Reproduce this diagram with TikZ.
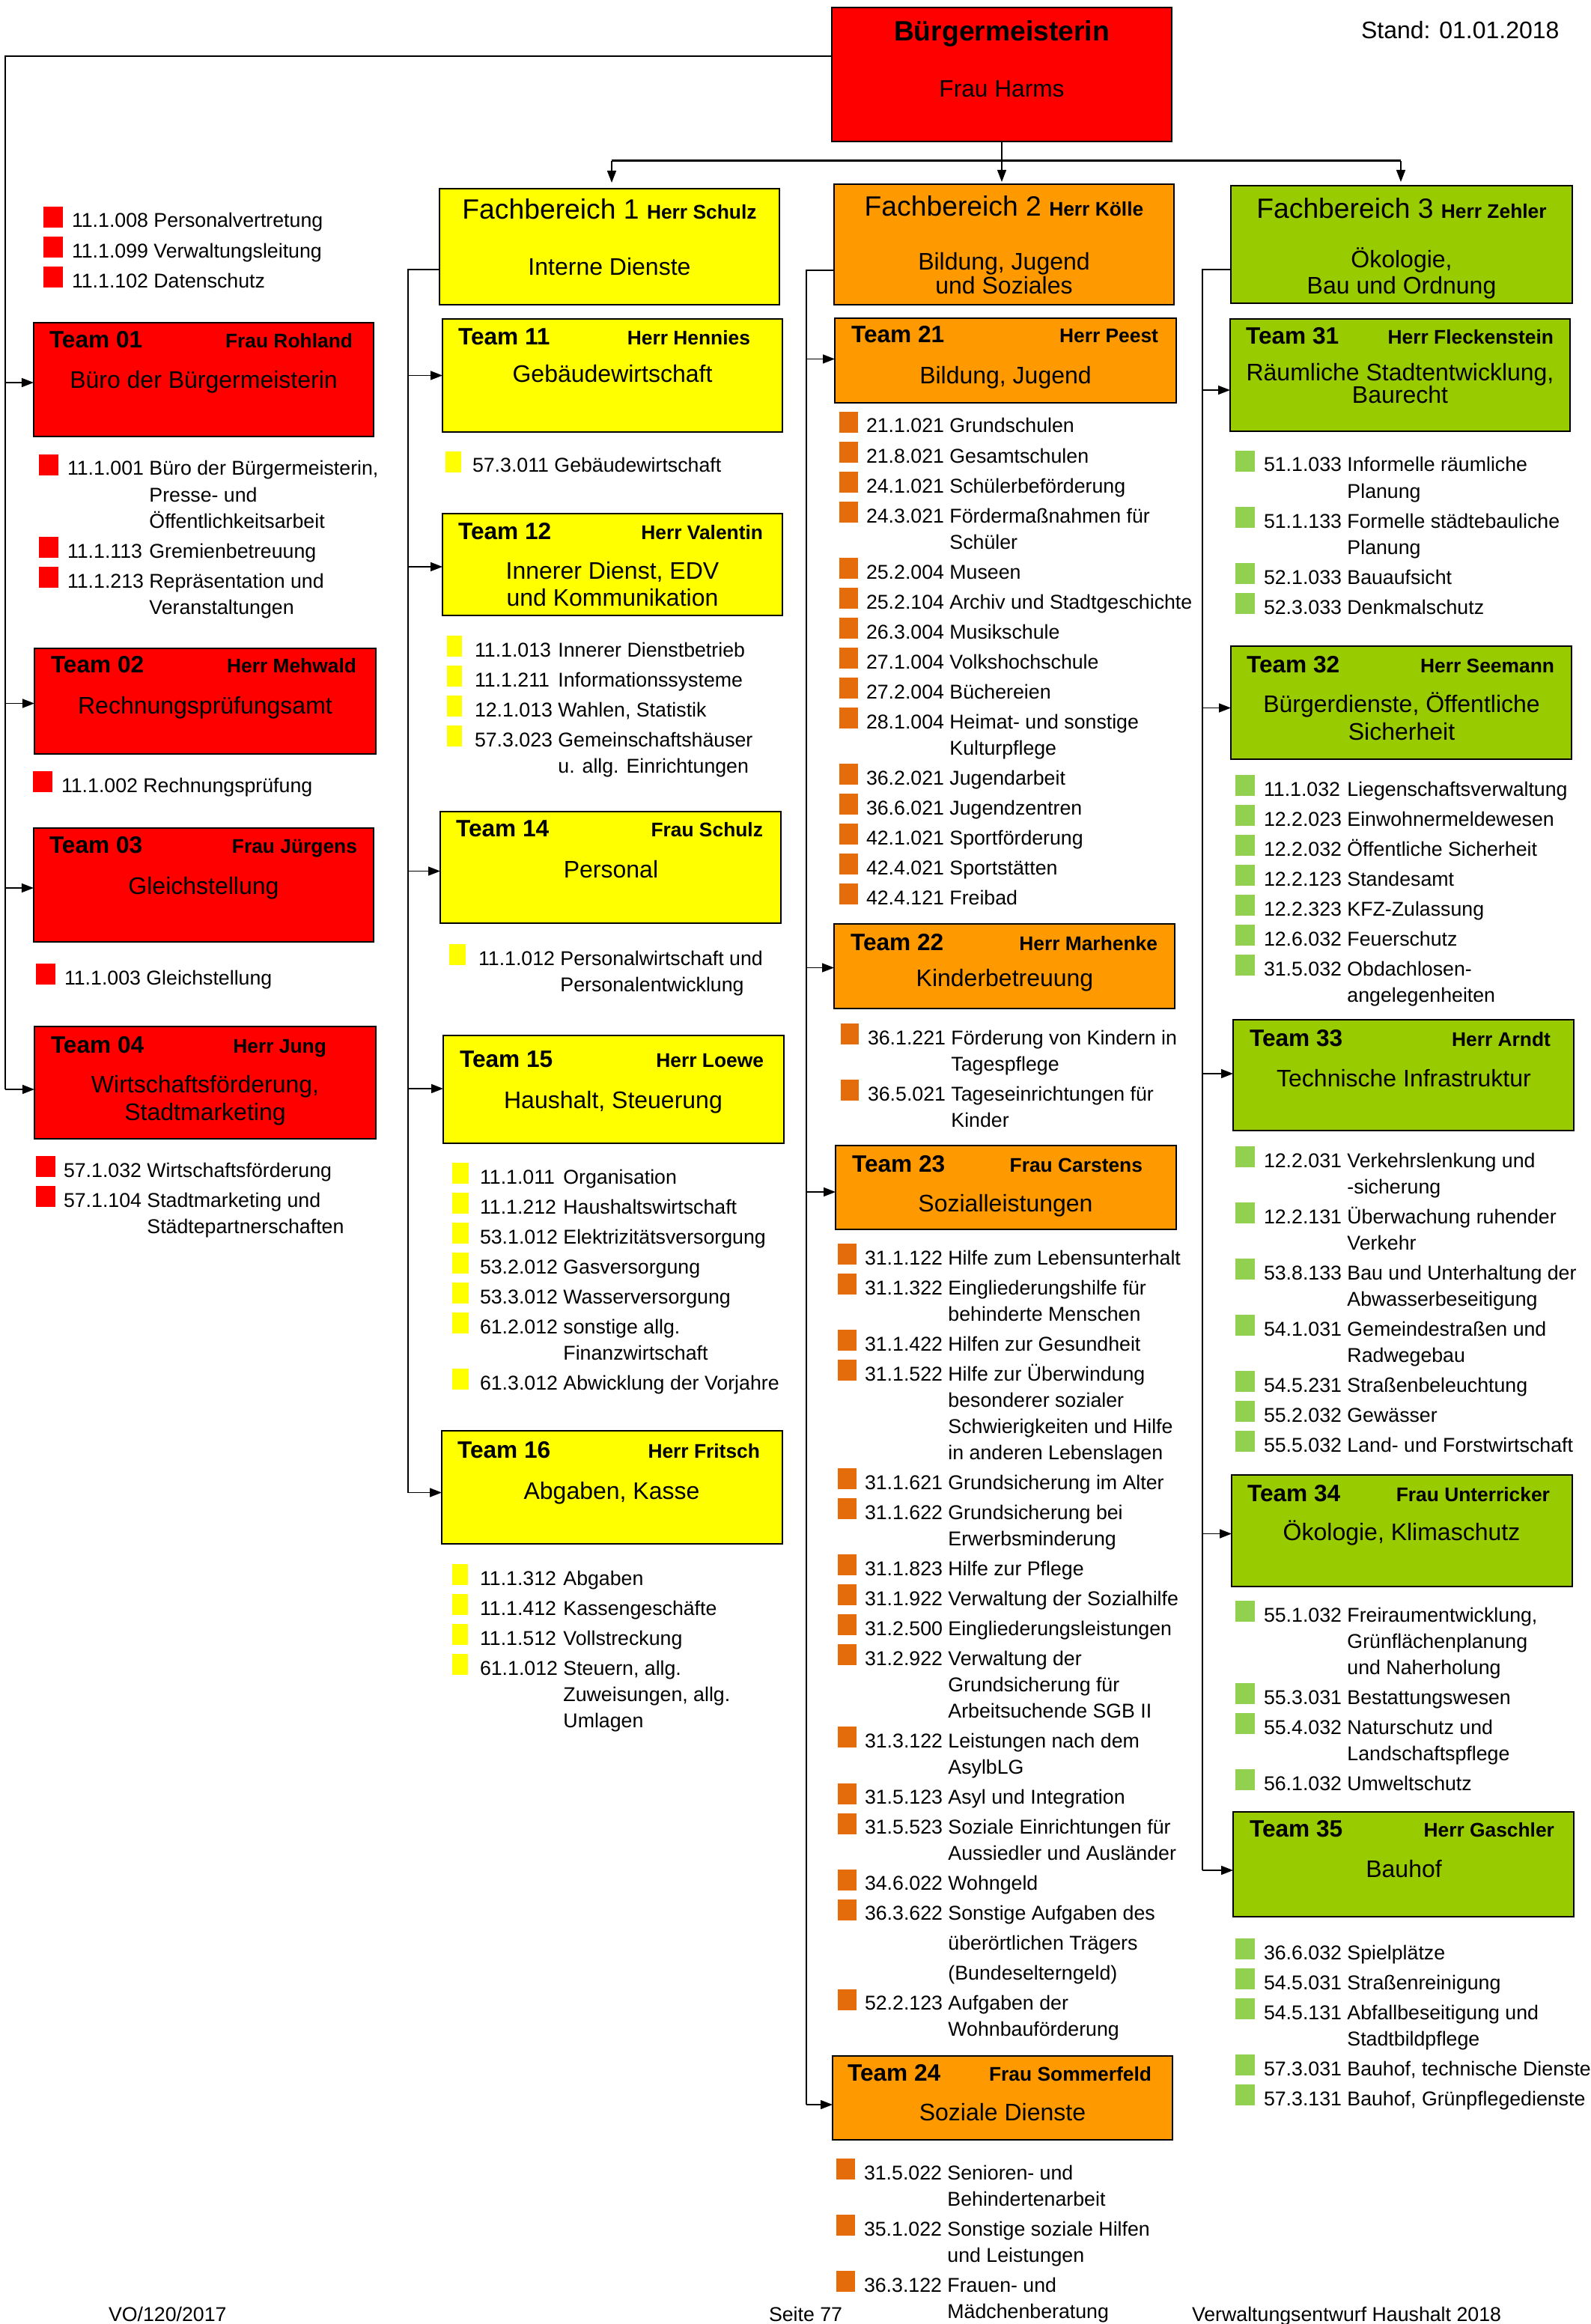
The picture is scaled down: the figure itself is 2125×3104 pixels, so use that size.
\documentclass[tikz,border=0pt]{standalone}
\usepackage{fontspec}
\setmainfont{Liberation Sans}
\usetikzlibrary{arrows.meta,calc}
\definecolor{cred}{HTML}{FF0000}
\definecolor{cyel}{HTML}{FFFF00}
\definecolor{corg}{HTML}{FF9900}
\definecolor{cgrn}{HTML}{99CC00}
\definecolor{bred}{HTML}{FF0000}
\definecolor{byel}{HTML}{FFFF00}
\definecolor{borg}{HTML}{E46C0A}
\definecolor{bgrn}{HTML}{92D050}
\newcommand\fItem{\fontsize{7.6}{9.96}\selectfont}
\newcommand\fTeam{\fontsize{9}{11}\selectfont\bfseries}
\newcommand\fName{\fontsize{7.5}{9}\selectfont\bfseries}
\newcommand\fSub{\fontsize{9.1}{11}\selectfont}
\newcommand\fFB{\fontsize{10.6}{12}\selectfont}
\newcommand\bl{\smash{\llap{\textcolor{\bulc}{\rule{\bulw}{0.28cm}}\hspace{\bulg}}}}
\newcommand\nx{\\[0.05cm]}
\newcommand\obox[6]{\node[obox,fill=#6,minimum width={(#4-#2)*0.01cm},minimum height={(#5-#3)*0.01cm},anchor=north west] (#1) at (#2,#3) {};}
\newcommand\teamhdr[6]{%
  \node[lbl,anchor=base west,font=\fTeam] (#1a) at (#2,#3) {#4};
  \node[lbl,anchor=base east,font=\fName] (#1b) at (#5,#3) {#6};}
\newcommand\subt[4]{\node[lbl,anchor=base,font=\fSub] (#1) at (#2,#3) {#4};}
\newcommand\ilist[7]{\node[ilst] (#1) at (#2,#3) {\def\bulc{#4}\def\bulw{#5}\def\bulg{#6}\begin{tabular}[t]{@{}l@{\ }l@{}}#7\end{tabular}};}
\newcommand\arrto[4]{\coordinate (#4) at ($(#2.west)+(0,#3)$); \draw[arr] (#4 -| #1) -- (#4);}
\tikzset{
  obox/.style={rectangle,draw=black,line width=0.02cm,inner sep=0pt,outer sep=0pt},
  lbl/.style={inner sep=0pt,outer sep=0pt},
  ilst/.style={inner sep=0pt,outer sep=0pt,anchor=base west,font=\fItem},
  arr/.style={line width=0.015cm,-{Triangle[length=0.16cm,width=0.12cm]}},
  spine/.style={line width=0.025cm},
  bus/.style={line width=0.03cm},
}
\begin{document}
\begin{tikzpicture}[x=0.01cm,y=-0.01cm]
\useasboundingbox (0,0) rectangle (2125,3104);
\clip (0,0) rectangle (2125,3104);
\fill[white] (0,0) rectangle (2125,3104);

% ---------- boxes ----------
\obox{bm}{1111}{10}{1565}{189}{cred}
\obox{fb1}{587}{252}{1041}{407}{cyel}
\obox{fb2}{1114}{246}{1568}{407}{corg}
\obox{fb3}{1644}{248}{2100}{405}{cgrn}
\obox{t01}{45}{431}{499}{583}{cred}
\obox{t02}{46}{866}{502}{1007}{cred}
\obox{t03}{45}{1106}{499}{1258}{cred}
\obox{t04}{46}{1371}{502}{1521}{cred}
\obox{t11}{591}{426}{1045}{577}{cyel}
\obox{t12}{591}{686}{1045}{822}{cyel}
\obox{t14}{588}{1084}{1043}{1233}{cyel}
\obox{t15}{592}{1383}{1047}{1527}{cyel}
\obox{t16}{590}{1911}{1045}{2062}{cyel}
\obox{t21}{1115}{425}{1571}{538}{corg}
\obox{t22}{1114}{1234}{1569}{1347}{corg}
\obox{t23}{1116}{1530}{1571}{1642}{corg}
\obox{t24}{1112}{2746}{1566}{2858}{corg}
\obox{t31}{1643}{426}{2097}{576}{cgrn}
\obox{t32}{1644}{863}{2099}{1014}{cgrn}
\obox{t33}{1647}{1362}{2102}{1510}{cgrn}
\obox{t34}{1645}{1970}{2100}{2119}{cgrn}
\obox{t35}{1647}{2420}{2102}{2560}{cgrn}

% ---------- box texts ----------
\node[lbl,anchor=base,font=\fontsize{10.6}{12}\selectfont\bfseries] (bma) at (1338,55) {Bürgermeisterin};
\node[lbl,anchor=base,font=\fontsize{9}{11}\selectfont] (bmb) at (1338,130) {Frau Harms};
\node[lbl,anchor=base west,font=\fSub] (stand) at (1818,52) {Stand: 01.01.2018};

\node[lbl,anchor=base,font=\fFB] (fb1a) at (814,293) {Fachbereich 1 {\fName Herr Schulz}};
\subt{fb1b}{814}{368}{Interne Dienste}
\node[lbl,anchor=base,font=\fFB] (fb2a) at (1341,289) {Fachbereich 2 {\fName Herr Kölle}};
\subt{fb2b}{1341}{361}{Bildung, Jugend}
\subt{fb2c}{1341}{393}{und Soziales}
\node[lbl,anchor=base,font=\fFB] (fb3a) at (1872,292) {Fachbereich 3 {\fName Herr Zehler}};
\subt{fb3b}{1872}{358}{Ökologie,}
\subt{fb3c}{1872}{393}{Bau und Ordnung}

\teamhdr{t01}{66}{465}{Team 01}{471}{Frau Rohland}
\subt{t01c}{272}{519}{Büro der Bürgermeisterin}
\teamhdr{t02}{68}{898}{Team 02}{476}{Herr Mehwald}
\subt{t02c}{274}{953}{Rechnungsprüfungsamt}
\teamhdr{t03}{66}{1139}{Team 03}{477}{Frau Jürgens}
\subt{t03c}{272}{1194}{Gleichstellung}
\teamhdr{t04}{68}{1406}{Team 04}{436}{Herr Jung}
\subt{t04c}{274}{1459}{Wirtschaftsförderung,}
\subt{t04d}{274}{1496}{Stadtmarketing}

\teamhdr{t11}{612}{461}{Team 11}{1002}{Herr Hennies}
\subt{t11c}{818}{511}{Gebäudewirtschaft}
\teamhdr{t12}{612}{721}{Team 12}{1019}{Herr Valentin}
\subt{t12c}{818}{774}{Innerer Dienst, EDV}
\subt{t12d}{818}{810}{und Kommunikation}
\teamhdr{t14}{609}{1117}{Team 14}{1019}{Frau Schulz}
\subt{t14c}{816}{1172}{Personal}
\teamhdr{t15}{614}{1425}{Team 15}{1020}{Herr Loewe}
\subt{t15c}{819}{1480}{Haushalt, Steuerung}
\teamhdr{t16}{611}{1947}{Team 16}{1015}{Herr Fritsch}
\subt{t16c}{817}{2002}{Abgaben, Kasse}

\teamhdr{t21}{1137}{458}{Team 21}{1547}{Herr Peest}
\subt{t21c}{1343}{513}{Bildung, Jugend}
\teamhdr{t22}{1136}{1269}{Team 22}{1546}{Herr Marhenke}
\subt{t22c}{1342}{1317}{Kinderbetreuung}
\teamhdr{t23}{1138}{1565}{Team 23}{1526}{Frau Carstens}
\subt{t23c}{1343}{1618}{Sozialleistungen}
\teamhdr{t24}{1132}{2779}{Team 24}{1538}{Frau Sommerfeld}
\subt{t24c}{1339}{2832}{Soziale Dienste}

\teamhdr{t31}{1664}{460}{Team 31}{2075}{Herr Fleckenstein}
\subt{t31c}{1870}{509}{Räumliche Stadtentwicklung,}
\subt{t31d}{1870}{539}{Baurecht}
\teamhdr{t32}{1665}{898}{Team 32}{2076}{Herr Seemann}
\subt{t32c}{1872}{951}{Bürgerdienste, Öffentliche}
\subt{t32d}{1872}{988}{Sicherheit}
\teamhdr{t33}{1669}{1397}{Team 33}{2071}{Herr Arndt}
\subt{t33c}{1875}{1451}{Technische Infrastruktur}
\teamhdr{t34}{1666}{2005}{Team 34}{2070}{Frau Unterricker}
\subt{t34c}{1872}{2057}{Ökologie, Klimaschutz}
\teamhdr{t35}{1669}{2453}{Team 35}{2076}{Herr Gaschler}
\subt{t35c}{1875}{2507}{Bauhof}

% ---------- item lists ----------
\ilist{l00}{96}{304}{bred}{0.26cm}{0.12cm}{\bl 11.1.008 & Personalvertretung\nx \bl 11.1.099 & Verwaltungsleitung\nx \bl 11.1.102 & Datenschutz}
\ilist{l01}{90}{635}{bred}{0.26cm}{0.12cm}{\bl 11.1.001 & Büro der Bürgermeisterin,\\ & Presse- und\\ & Öffentlichkeitsarbeit\nx \bl 11.1.113 & Gremienbetreuung\nx \bl 11.1.213 & Repräsentation und\\ & Veranstaltungen}
\ilist{l02}{82}{1058}{bred}{0.26cm}{0.12cm}{\bl 11.1.002 & Rechnungsprüfung}
\ilist{l03}{86}{1315}{bred}{0.26cm}{0.12cm}{\bl 11.1.003 & Gleichstellung}
\ilist{l04}{85}{1572}{bred}{0.26cm}{0.11cm}{\bl 57.1.032 & Wirtschaftsförderung\nx \bl 57.1.104 & Stadtmarketing und\\ & Städtepartnerschaften}

\ilist{l11}{631}{631}{byel}{0.21cm}{0.15cm}{\bl 57.3.011 & Gebäudewirtschaft}
\ilist{l12}{634}{877}{byel}{0.20cm}{0.17cm}{\bl 11.1.013 & Innerer Dienstbetrieb\nx \bl 11.1.211 & Informationssysteme\nx \bl 12.1.013 & Wahlen, Statistik\nx \bl 57.3.023 & Gemeinschaftshäuser\\ & u. allg. Einrichtungen}
\ilist{l14}{639}{1289}{byel}{0.22cm}{0.17cm}{\bl 11.1.012 & Personalwirtschaft und\\ & Personalentwicklung}
\ilist{l15}{641}{1581}{byel}{0.22cm}{0.15cm}{\bl 11.1.011 & Organisation\nx \bl 11.1.212 & Haushaltswirtschaft\nx \bl 53.1.012 & Elektrizitätsversorgung\nx \bl 53.2.012 & Gasversorgung\nx \bl 53.3.012 & Wasserversorgung\nx \bl 61.2.012 & sonstige allg.\\ & Finanzwirtschaft\nx \bl 61.3.012 & Abwicklung der Vorjahre}
\ilist{l16}{641}{2117}{byel}{0.21cm}{0.16cm}{\bl 11.1.312 & Abgaben\nx \bl 11.1.412 & Kassengeschäfte\nx \bl 11.1.512 & Vollstreckung\nx \bl 61.1.012 & Steuern, allg.\\ & Zuweisungen, allg.\\ & Umlagen}

\ilist{l21}{1157}{578}{borg}{0.25cm}{0.11cm}{\bl 21.1.021 & Grundschulen\nx \bl 21.8.021 & Gesamtschulen\nx \bl 24.1.021 & Schülerbeförderung\nx \bl 24.3.021 & Fördermaßnahmen für\\ & Schüler\nx \bl 25.2.004 & Museen\nx \bl 25.2.104 & Archiv und Stadtgeschichte\nx \bl 26.3.004 & Musikschule\nx \bl 27.1.004 & Volkshochschule\nx \bl 27.2.004 & Büchereien\nx \bl 28.1.004 & Heimat- und sonstige\\ & Kulturpflege\nx \bl 36.2.021 & Jugendarbeit\nx \bl 36.6.021 & Jugendzentren\nx \bl 42.1.021 & Sportförderung\nx \bl 42.4.021 & Sportstätten\nx \bl 42.4.121 & Freibad}
\ilist{l22}{1159}{1395}{borg}{0.24cm}{0.12cm}{\bl 36.1.221 & Förderung von Kindern in\\ & Tagespflege\nx \bl 36.5.021 & Tageseinrichtungen für\\ & Kinder}
\ilist{l23}{1155}{1689}{borg}{0.25cm}{0.11cm}{\bl 31.1.122 & Hilfe zum Lebensunterhalt\nx \bl 31.1.322 & Eingliederungshilfe für\\ & behinderte Menschen\nx \bl 31.1.422 & Hilfen zur Gesundheit\nx \bl 31.1.522 & Hilfe zur Überwindung\\ & besonderer sozialer\\ & Schwierigkeiten und Hilfe\\ & in anderen Lebenslagen\nx \bl 31.1.621 & Grundsicherung im Alter\nx \bl 31.1.622 & Grundsicherung bei\\ & Erwerbsminderung\nx \bl 31.1.823 & Hilfe zur Pflege\nx \bl 31.1.922 & Verwaltung der Sozialhilfe\nx \bl 31.2.500 & Eingliederungsleistungen\nx \bl 31.2.922 & Verwaltung der\\ & Grundsicherung für\\ & Arbeitsuchende SGB II\nx \bl 31.3.122 & Leistungen nach dem\\ & AsylbLG\nx \bl 31.5.123 & Asyl und Integration\nx \bl 31.5.523 & Soziale Einrichtungen für\\ & Aussiedler und Ausländer\nx \bl 34.6.022 & Wohngeld\nx \bl 36.3.622 & Sonstige Aufgaben des\nx & überörtlichen Trägers\nx & (Bundeselterngeld)\nx \bl 52.2.123 & Aufgaben der\\ & Wohnbauförderung}
\ilist{l24}{1154}{2911}{borg}{0.25cm}{0.12cm}{\bl 31.5.022 & Senioren- und\\ & Behindertenarbeit\nx \bl 35.1.022 & Sonstige soziale Hilfen\\ & und Leistungen\nx \bl 36.3.122 & Frauen- und\\ & Mädchenberatung}

\ilist{l31}{1688}{630}{bgrn}{0.26cm}{0.12cm}{\bl 51.1.033 & Informelle räumliche\\ & Planung\nx \bl 51.1.133 & Formelle städtebauliche\\ & Planung\nx \bl 52.1.033 & Bauaufsicht\nx \bl 52.3.033 & Denkmalschutz}
\ilist{l32}{1688}{1063}{bgrn}{0.26cm}{0.12cm}{\bl 11.1.032 & Liegenschaftsverwaltung\nx \bl 12.2.023 & Einwohnermeldewesen\nx \bl 12.2.032 & Öffentliche Sicherheit\nx \bl 12.2.123 & Standesamt\nx \bl 12.2.323 & KFZ-Zulassung\nx \bl 12.6.032 & Feuerschutz\nx \bl 31.5.032 & Obdachlosen-\\ & angelegenheiten}
\ilist{l33}{1688}{1559}{bgrn}{0.26cm}{0.12cm}{\bl 12.2.031 & Verkehrslenkung und\\ & -sicherung\nx \bl 12.2.131 & Überwachung ruhender\\ & Verkehr\nx \bl 53.8.133 & Bau und Unterhaltung der\\ & Abwasserbeseitigung\nx \bl 54.1.031 & Gemeindestraßen und\\ & Radwegebau\nx \bl 54.5.231 & Straßenbeleuchtung\nx \bl 55.2.032 & Gewässer\nx \bl 55.5.032 & Land- und Forstwirtschaft}
\ilist{l34}{1688}{2166}{bgrn}{0.26cm}{0.12cm}{\bl 55.1.032 & Freiraumentwicklung,\\ & Grünflächenplanung\\ & und Naherholung\nx \bl 55.3.031 & Bestattungswesen\nx \bl 55.4.032 & Naturschutz und\\ & Landschaftspflege\nx \bl 56.1.032 & Umweltschutz}
\ilist{l35}{1688}{2617}{bgrn}{0.26cm}{0.12cm}{\bl 36.6.032 & Spielplätze\nx \bl 54.5.031 & Straßenreinigung\nx \bl 54.5.131 & Abfallbeseitigung und\\ & Stadtbildpflege\nx \bl 57.3.031 & Bauhof, technische Dienste\nx \bl 57.3.131 & Bauhof, Grünpflegedienste}

% ---------- footer ----------
\node[lbl,anchor=base west,font=\fItem] (f1) at (145,3100) {VO/120/2017};
\node[lbl,anchor=base west,font=\fItem] (f2) at (1027,3100) {Seite 77};
\node[lbl,anchor=base west,font=\fItem] (f3) at (1592,3100) {Verwaltungsentwurf Haushalt 2018};

% ---------- connectors ----------
\coordinate (spA) at (7,0);
\coordinate (spB) at (545,0);
\coordinate (spC) at (1077,0);
\coordinate (spD) at (1606,0);

\arrto{spA}{t01}{4}{a01}
\arrto{spA}{t02}{3}{a02}
\arrto{spA}{t03}{4}{a03}
\arrto{spA}{t04}{9}{a04}
\arrto{spB}{t11}{0}{a11}
\arrto{spB}{t12}{3}{a12}
\arrto{spB}{t14}{5}{a14}
\arrto{spB}{t15}{-1}{a15}
\arrto{spB}{t16}{7}{a16}
\arrto{spC}{t21}{-2}{a21}
\arrto{spC}{t22}{2}{a22}
\arrto{spC}{t23}{6}{a23}
\arrto{spC}{t24}{9}{a24}
\arrto{spD}{t31}{20}{a31}
\arrto{spD}{t32}{7}{a32}
\arrto{spD}{t33}{-2}{a33}
\arrto{spD}{t34}{4}{a34}
\arrto{spD}{t35}{8}{a35}

\draw[spine] ([yshift=0.245cm]bm.west) -| (spA |- a04);
\draw[spine] ([yshift=-0.305cm]fb1.west) -| (spB |- a16);
\draw[spine] ([yshift=-0.345cm]fb2.west) -| (spC |- a24);
\draw[spine] ([yshift=-0.335cm]fb3.west) -| (spD |- a35);

\coordinate (busL) at (817,215);
\coordinate (busR) at (1871,215);
\draw[bus] (busL) -- (busR);
\draw[arr,line width=0.012cm,shorten >=0.03cm] (bm.south) -- (bm.south |- fb2.north);
\draw[arr,shorten >=0.08cm] (busL) -- (busL |- fb1.north);
\draw[arr,shorten >=0.05cm] (busR) -- (busR |- fb3.north);
\end{tikzpicture}
\end{document}
